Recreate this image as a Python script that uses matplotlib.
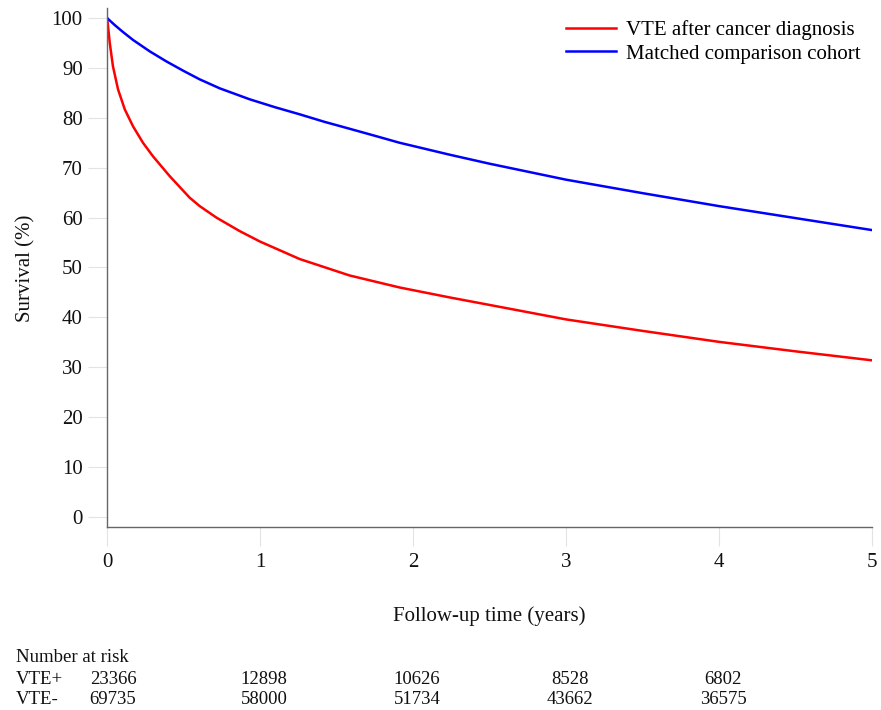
import matplotlib
matplotlib.use("Agg")
import matplotlib.pyplot as plt
import numpy as np

plt.rcParams['font.family'] = ['Liberation Serif', 'DejaVu Serif']

# Survival curves (years, %)
t_vte = [0, 0.005, 0.018, 0.039, 0.072, 0.116, 0.170, 0.235, 0.30, 0.41, 0.54, 0.606, 0.715,
         0.867, 1.0, 1.259, 1.586, 1.912, 2.24, 2.5, 3.0, 3.5, 4.0, 4.5, 5.0]
s_vte = [100, 98.9, 95.0, 90.3, 85.7, 81.7, 78.3, 75.0, 72.3, 68.3, 64.0, 62.3, 60.0,
         57.3, 55.2, 51.7, 48.4, 46.0, 44.0, 42.5, 39.6, 37.3, 35.1, 33.2, 31.4]

t_cmp = [0, 0.05, 0.1, 0.17, 0.28, 0.388, 0.5, 0.606, 0.737, 0.933, 1.1, 1.259, 1.42, 1.586,
         1.75, 1.912, 2.24, 2.5, 3.0, 3.5, 4.0, 4.5, 5.0]
s_cmp = [100, 98.6, 97.3, 95.6, 93.3, 91.3, 89.4, 87.7, 85.9, 83.7, 82.1, 80.7, 79.2, 77.8,
         76.4, 75.0, 72.6, 70.8, 67.6, 64.9, 62.3, 59.9, 57.5]

label_vte = "VTE after cancer diagnosis"
label_cmp = "Matched comparison cohort"

# Number at risk
risk_times = [0, 1, 2, 3, 4]
risk_vte_pos = [23366, 12898, 10626, 8528, 6802]
risk_vte_neg = [69735, 58000, 51734, 43662, 36575]
risk_groups = ["VTE+", "VTE-"]

xticks = [0, 1, 2, 3, 4, 5]
yticks = [0, 10, 20, 30, 40, 50, 60, 70, 80, 90, 100]

W, H = 881, 710
fig = plt.figure(figsize=(W / 100, H / 100), dpi=100)
ax = fig.add_axes([107 / W, 1 - 527 / H, 765 / W, (527 - 8) / H])

ax.plot(t_vte, s_vte, color='#ff0000', lw=1.8, label=label_vte, solid_joinstyle='round')
ax.plot(t_cmp, s_cmp, color='#0000ff', lw=1.8, label=label_cmp, solid_joinstyle='round')

ax.set_xlim(0, 5)
ax.set_ylim(-2, 102)
ax.set_xticks(xticks)
ax.set_yticks(yticks)
ax.tick_params(axis='both', which='major', labelsize=15, length=13.5, width=0.8,
               color='#e3e3e3', labelcolor='#111111')
ax.tick_params(axis='y', pad=4)
ax.tick_params(axis='x', pad=5)

for s in ['top', 'right']:
    ax.spines[s].set_visible(False)
for s in ['left', 'bottom']:
    ax.spines[s].set_color('#666666')
    ax.spines[s].set_linewidth(1.0)

ax.set_ylabel("Survival (%)", fontsize=15, color='#111111')
ax.yaxis.set_label_coords(-(107 - 35) / 765, (517 - 268) / 519 + 10 / 519)
ax.set_xlabel("Follow-up time (years)", fontsize=15, color='#111111', labelpad=25)

leg = ax.legend(loc='upper right', bbox_to_anchor=(1.004, 1.005), frameon=False, fontsize=15,
                handlelength=2.4, handletextpad=0.45, labelspacing=0.2, borderaxespad=0.3)

# Number at risk table
fig.text(16 / W, 1 - 657 / H, "Number at risk", fontsize=13.5, va='center', ha='left', color='#111111')
rows = [risk_vte_pos, risk_vte_neg]
ys = [679, 700]
for name, vals, yp in zip(risk_groups, rows, ys):
    fig.text(16 / W, 1 - yp / H, name, fontsize=13.5, va='center', ha='left', color='#111111')
    for tt, v in zip(risk_times, vals):
        xd = ax.transData.transform((tt, 0))[0]
        off = 6 if tt == 0 else 4
        fig.text((xd + off) / W, 1 - yp / H, str(v), fontsize=13.5, va='center', ha='center',
                 color='#111111')

fig.savefig("out.png", dpi=100, facecolor='white')
